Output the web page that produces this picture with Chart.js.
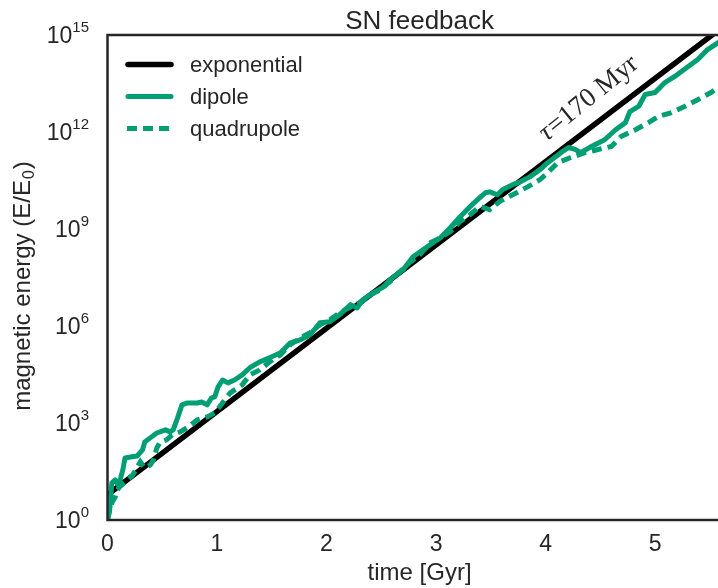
<!DOCTYPE html>
<html>
<head>
<meta charset="utf-8">
<title>SN feedback</title>
<script src="https://cdn.jsdelivr.net/npm/chart.js@4.4.1/dist/chart.umd.min.js"></script>
<style>
  html, body { margin: 0; padding: 0; background: #fff; }
  /* the figure is cut at its right edge, like the reference */
  #wrap { width: 718px; height: 588px; overflow: hidden; }
</style>
</head>
<body>
<div id="wrap"><canvas id="chart" width="740" height="588"></canvas></div>
<script>
// Axis ticks
const xTicks = [0, 1, 2, 3, 4, 5];
const yTickPowers = [0, 3, 6, 9, 12, 15];

// Exponential growth, tau = 170 Myr (end points)
const expTime = [0, 5.6];
const expEnergy = [6, 1.6e15];

// Dipole energy: time [Gyr] and log10(E/E0)
const dipoleTime = [0, 0.02, 0.04, 0.07, 0.1, 0.12, 0.14, 0.16, 0.21, 0.27, 0.32, 0.34, 0.39, 0.45, 0.53,
  0.57, 0.6, 0.64, 0.68, 0.73, 0.82, 0.86, 0.91, 0.95, 0.98, 1.01, 1.05, 1.1, 1.16, 1.23, 1.3, 1.39, 1.48,
  1.58, 1.67, 1.76, 1.85, 1.94, 2.03, 2.12, 2.22, 2.28, 2.33, 2.43, 2.52, 2.58, 2.64, 2.7, 2.79, 2.92,
  3.04, 3.13, 3.22, 3.31, 3.4, 3.45, 3.49, 3.56, 3.61, 3.7, 3.77, 3.86, 3.95, 4.02, 4.14, 4.21, 4.27,
  4.32, 4.42, 4.54, 4.64, 4.73, 4.77, 4.85, 4.91, 5.0, 5.09, 5.18, 5.3, 5.39, 5.48, 5.58];
const dipoleLogE = [0, 0.31, 1.15, 1.24, 1.08, 1.3, 1.55, 1.92, 1.95, 1.98, 2.17, 2.41, 2.54, 2.69, 2.79,
  2.72, 2.79, 3.16, 3.56, 3.62, 3.62, 3.65, 3.56, 3.78, 3.81, 4.12, 4.33, 4.24, 4.33, 4.49, 4.71, 4.89, 5.02,
  5.17, 5.48, 5.57, 5.73, 6.1, 6.13, 6.35, 6.66, 6.56, 6.81, 7.03, 7.21, 7.43, 7.59, 7.74, 8.14, 8.45,
  8.73, 9.04, 9.38, 9.69, 9.97, 10.12, 10.15, 10.06, 10.22, 10.37, 10.46, 10.62, 10.84, 11.05, 11.36, 11.52, 11.46,
  11.36, 11.55, 11.76, 12.07, 12.29, 12.63, 12.79, 13.16, 13.22, 13.53, 13.72, 14.02, 14.24, 14.55, 14.77];

// Quadrupole energy: time [Gyr] and log10(E/E0)
const quadTime = [0, 0.02, 0.04, 0.07, 0.09, 0.11, 0.18, 0.23, 0.3, 0.34, 0.39, 0.42, 0.45, 0.48, 0.54,
  0.59, 0.66, 0.74, 0.82, 0.91, 0.98, 1.05, 1.12, 1.23, 1.3, 1.39, 1.48, 1.58, 1.67, 1.76, 1.85, 1.94,
  2.03, 2.12, 2.22, 2.31, 2.4, 2.49, 2.58, 2.67, 2.76, 2.85, 2.95, 3.04, 3.13, 3.22, 3.31, 3.4, 3.49,
  3.58, 3.7, 3.84, 3.95, 4.02, 4.11, 4.23, 4.36, 4.48, 4.6, 4.69, 4.82, 4.94, 5.03, 5.15, 5.27, 5.39,
  5.51, 5.58];
const quadLogE = [0, 0.31, 0.53, 0.71, 0.93, 1.02, 1.24, 1.39, 1.8, 1.61, 1.7, 1.86, 2.23, 2.41, 2.48,
  2.63, 2.72, 2.88, 3.1, 3.19, 3.31, 3.62, 3.93, 4.18, 4.49, 4.64, 4.89, 5.11, 5.42, 5.63, 5.79, 6.04,
  6.19, 6.41, 6.59, 6.72, 6.97, 7.12, 7.37, 7.68, 7.96, 8.2, 8.58, 8.73, 8.92, 9.23, 9.44, 9.7, 9.6,
  9.85, 10.06, 10.31, 10.53, 10.74, 11.05, 11.21, 11.36, 11.46, 11.55, 11.86, 12.07, 12.29, 12.48, 12.6,
  12.79, 13.0, 13.22, 13.37];

// Annotation anchor (data coords)
const annotTime = 4.01;
const annotEnergy = 5e11;

const textColor = '#262626';
const green = '#009E73';
const sans = '"Liberation Sans", Arial, sans-serif';
const serif = '"Liberation Serif", "Times New Roman", serif';

const toPoints = (ts, vs) => ts.map((t, i) => ({ x: t, y: vs[i] }));
const fromLog = (ls) => ls.map(v => Math.pow(10, v));

// axes frame, drawn over the lines like matplotlib spines
const framePlugin = {
  id: 'frame',
  afterDatasetsDraw(chart) {
    const { ctx, chartArea: a } = chart;
    ctx.save();
    ctx.strokeStyle = textColor;
    ctx.lineWidth = 2.5;
    ctx.strokeRect(a.left, a.top, a.right - a.left, a.bottom - a.top);
    ctx.restore();
  }
};

// title, y tick labels with exponents, axis labels, legend, annotation
const labelsPlugin = {
  id: 'labels',
  afterDraw(chart) {
    const { ctx, chartArea: a, scales } = chart;
    ctx.save();
    ctx.fillStyle = textColor;
    ctx.textBaseline = 'alphabetic';

    // title
    ctx.font = '26px ' + sans;
    ctx.textAlign = 'center';
    ctx.fillText('SN feedback', (a.left + a.right) / 2, 29);

    // x label
    ctx.font = '24px ' + sans;
    ctx.fillText('time [Gyr]', (a.left + a.right) / 2, 580);

    // y tick labels: 10^n
    ctx.textAlign = 'left';
    yTickPowers.forEach(p => {
      const py = scales.y.getPixelForValue(Math.pow(10, p));
      ctx.font = '15px ' + sans;
      const we = ctx.measureText(String(p)).width;
      ctx.fillText(String(p), 89 - we, py - 3);
      ctx.font = '23px ' + sans;
      const wb = ctx.measureText('10').width;
      ctx.fillText('10', 89 - we - wb, py + 8);
    });

    // y label with subscript
    ctx.save();
    ctx.translate(30, 287);
    ctx.rotate(-Math.PI / 2);
    const p1 = 'magnetic energy (E/E', p2 = '0', p3 = ')';
    ctx.font = '24px ' + sans;
    const w1 = ctx.measureText(p1).width, w3 = ctx.measureText(p3).width;
    ctx.font = '16px ' + sans;
    const w2 = ctx.measureText(p2).width;
    let x0 = -(w1 + w2 + w3) / 2;
    ctx.font = '24px ' + sans;
    ctx.fillText(p1, x0, 0);
    ctx.font = '16px ' + sans;
    ctx.fillText(p2, x0 + w1 + 1, 4);
    ctx.font = '24px ' + sans;
    ctx.fillText(p3, x0 + w1 + w2 + 2, 0);
    ctx.restore();

    // legend
    chart.data.datasets.forEach((ds, i) => {
      const ly = 64.5 + 32 * i;
      ctx.save();
      ctx.strokeStyle = ds.borderColor;
      ctx.lineWidth = ds.borderWidth;
      ctx.lineCap = ds.borderCapStyle;
      ctx.setLineDash(ds.borderDash || []);
      ctx.beginPath();
      if (ds.borderDash) { ctx.moveTo(127, ly); ctx.lineTo(170, ly); }
      else { ctx.moveTo(128, ly); ctx.lineTo(171, ly); }
      ctx.stroke();
      ctx.restore();
      ctx.font = '22px ' + sans;
      ctx.textAlign = 'left';
      ctx.fillText(ds.label, 190, ly + 7.5);
    });

    // tau annotation along the exponential
    ctx.save();
    ctx.translate(scales.x.getPixelForValue(annotTime), scales.y.getPixelForValue(annotEnergy));
    ctx.rotate(-39 * Math.PI / 180);
    ctx.textAlign = 'left';
    ctx.font = 'italic 27px ' + serif;
    ctx.fillText('τ', 0, 0);
    const wt = ctx.measureText('τ').width;
    ctx.font = '27px ' + serif;
    ctx.fillText('=170 Myr', wt + 1, 0);
    ctx.restore();

    ctx.restore();
  }
};

const ctx = document.getElementById('chart').getContext('2d');
new Chart(ctx, {
  type: 'line',
  data: {
    datasets: [
      {
        label: 'exponential',
        data: toPoints(expTime, expEnergy),
        borderColor: '#000000',
        borderWidth: 5.5,
        borderCapStyle: 'round',
        order: 3
      },
      {
        label: 'dipole',
        data: toPoints(dipoleTime, fromLog(dipoleLogE)),
        borderColor: green,
        borderWidth: 5,
        borderCapStyle: 'round',
        borderJoinStyle: 'round',
        order: 2
      },
      {
        label: 'quadrupole',
        data: toPoints(quadTime, fromLog(quadLogE)),
        borderColor: green,
        borderWidth: 5,
        borderDash: [10, 6],
        borderCapStyle: 'butt',
        order: 1
      }
    ]
  },
  options: {
    responsive: false,
    animation: false,
    clip: 0,
    layout: { padding: { left: 0, top: 35, right: 8.3, bottom: 0 } },
    elements: {
      point: { radius: 0 },
      line: { tension: 0, fill: false }
    },
    plugins: {
      legend: { display: false },
      title: { display: false },
      tooltip: { enabled: false }
    },
    scales: {
      x: {
        type: 'linear',
        min: 0,
        max: 5.7,
        grid: { display: false, drawTicks: false },
        border: { display: false },
        ticks: {
          color: textColor,
          font: { family: sans, size: 23 },
          padding: 11,
          maxRotation: 0,
          autoSkip: false
        },
        afterBuildTicks: s => { s.ticks = xTicks.map(v => ({ value: v })); },
        afterFit: s => { s.height = 68; }
      },
      y: {
        type: 'logarithmic',
        min: 1,
        max: 1e15,
        grid: { display: false, drawTicks: false },
        border: { display: false },
        ticks: { display: false },
        afterBuildTicks: s => { s.ticks = yTickPowers.map(p => ({ value: Math.pow(10, p) })); },
        afterFit: s => { s.width = 107.5; }
      }
    }
  },
  plugins: [framePlugin, labelsPlugin]
});
</script>
</body>
</html>
